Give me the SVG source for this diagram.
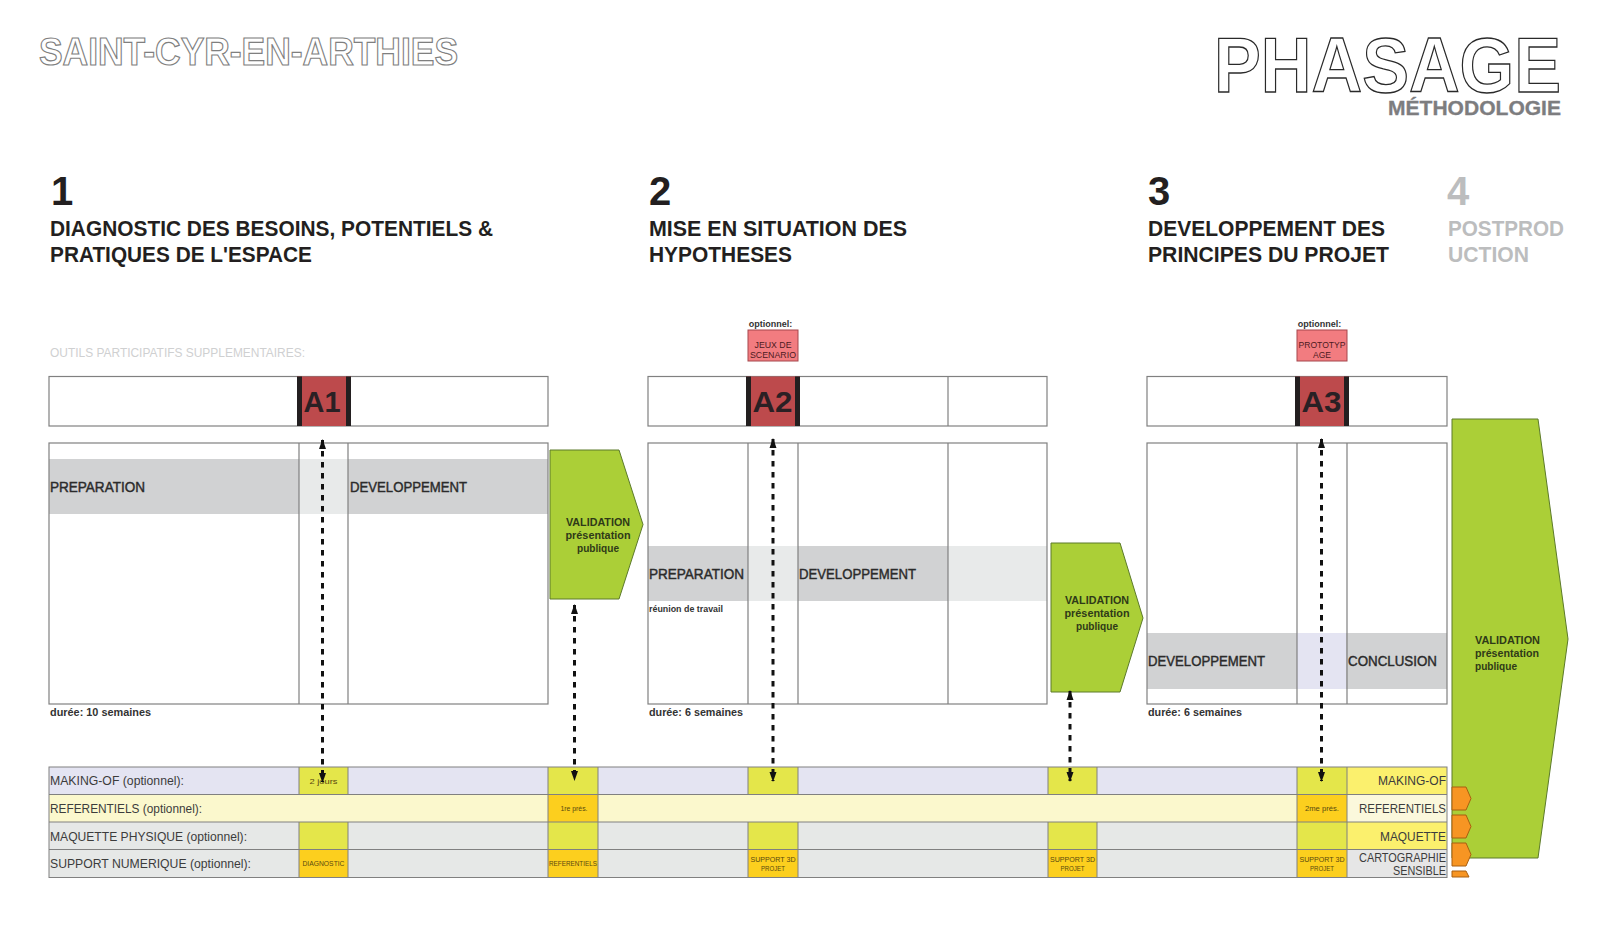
<svg xmlns="http://www.w3.org/2000/svg" width="1600" height="949" viewBox="0 0 1600 949">
<style>
text{font-family:"Liberation Sans",Arial,sans-serif}
.outline{font-weight:700;fill:#fff}
.num{font-size:40px;font-weight:700;fill:#231f20}
.head{font-size:21.5px;font-weight:700;fill:#231f20}
.grey{fill:#bcbdbe}
.frame{fill:none;stroke:#808080;stroke-width:1.2}
.div{stroke:#808080;stroke-width:1.2;fill:none}
.box{fill:#fff;stroke:#808080;stroke-width:1.2}
.band{fill:#d1d2d3}
.light{fill:#e8eaea}
.bandt{font-size:15px;fill:#2b2b2b;stroke:#2b2b2b;stroke-width:.45}
.a{fill:#bd4a4c}
.bar{fill:#231f20}
.at{font-size:30px;font-weight:700;fill:#2a2024;text-anchor:middle}
.opt{font-size:9px;font-weight:700;fill:#333;text-anchor:middle}
.pink{fill:#f27c80;stroke:#a5474c;stroke-width:1}
.pt{font-size:8.5px;fill:#4d1a20;text-anchor:middle}
.dur{font-size:10.5px;font-weight:700;fill:#333}
.arrow{fill:#abcf37;stroke:#5c7a2a;stroke-width:1}
.vt{font-size:11px;font-weight:700;fill:#2f3a18;text-anchor:middle}
.vl{font-size:11px;font-weight:700;fill:#2f3a18}
.r1{fill:#e4e4f2}.r2{fill:#fbf8cd}.r3{fill:#e6e8e7}
.yc{fill:#e4e64a}.oc{fill:#fccf1e}
.ry{fill:#fbf06d}.rp{fill:#fbf8dc}.rg{fill:#e6e6e6}
.gl{stroke:#808080;stroke-width:1;fill:none}
.rl{font-size:13.5px;fill:#3c3c3c}
.rr{font-size:13.5px;fill:#3c3c3c}
.sm{font-size:7.5px;fill:#5a4a10;text-anchor:middle}
.orange{fill:#f79523;stroke:#a85f10;stroke-width:1}
.dash{stroke:#111;stroke-width:3;stroke-dasharray:5.5 5.5;fill:none}
</style>
<defs>
<marker id="ah" markerUnits="userSpaceOnUse" markerWidth="10" markerHeight="9" refX="9" refY="4" orient="auto-start-reverse"><path d="M0 0.500L10 4L0 7.500Z" fill="#111"/></marker>
</defs>

<g id="titles">
<text class="outline" x="39" y="65" font-size="39" stroke="#7f7f7f" stroke-width="1.2" textLength="419" lengthAdjust="spacingAndGlyphs">SAINT-CYR-EN-ARTHIES</text>
<text class="outline" x="1214" y="92" font-size="77" stroke="#2a2a2a" stroke-width="1.3" textLength="347" lengthAdjust="spacingAndGlyphs">PHASAGE</text>
<text x="1388" y="115" font-size="20" font-weight="700" fill="#7d7d7f" stroke="#7d7d7f" stroke-width=".3" textLength="173" lengthAdjust="spacingAndGlyphs">MÉTHODOLOGIE</text>
</g>

<g id="phase-1-head">
<text class="num" x="51" y="205">1</text>
<text class="head" x="50" y="236" textLength="443" lengthAdjust="spacingAndGlyphs">DIAGNOSTIC DES BESOINS, POTENTIELS &amp;</text>
<text class="head" x="50" y="262" textLength="262" lengthAdjust="spacingAndGlyphs">PRATIQUES DE L'ESPACE</text>
</g>
<g id="phase-2-head">
<text class="num" x="649" y="205">2</text>
<text class="head" x="649" y="236" textLength="258" lengthAdjust="spacingAndGlyphs">MISE EN SITUATION DES</text>
<text class="head" x="649" y="262" textLength="143" lengthAdjust="spacingAndGlyphs">HYPOTHESES</text>
</g>
<g id="phase-3-head">
<text class="num" x="1148" y="205">3</text>
<text class="head" x="1148" y="236" textLength="237" lengthAdjust="spacingAndGlyphs">DEVELOPPEMENT DES</text>
<text class="head" x="1148" y="262" textLength="241" lengthAdjust="spacingAndGlyphs">PRINCIPES DU PROJET</text>
</g>
<g id="phase-4-head">
<text class="num grey" x="1447" y="205">4</text>
<text class="head grey" x="1448" y="236" textLength="116" lengthAdjust="spacingAndGlyphs">POSTPROD</text>
<text class="head grey" x="1448" y="262" textLength="81" lengthAdjust="spacingAndGlyphs">UCTION</text>
</g>

<text id="outils" x="50" y="357" font-size="12" fill="#cfd0d1" textLength="255" lengthAdjust="spacingAndGlyphs">OUTILS PARTICIPATIFS SUPPLEMENTAIRES:</text>

<g id="strip-a1">
<rect class="box" x="49" y="376.500" width="499" height="49.500"/>
<rect class="a" x="297" y="376.500" width="54" height="49.500"/>
<rect class="bar" x="297" y="376.500" width="5" height="49.500"/><rect class="bar" x="346" y="376.500" width="5" height="49.500"/>
<text class="at" x="322" y="411.500" textLength="37" lengthAdjust="spacingAndGlyphs">A1</text>
</g>
<g id="strip-a2">
<rect class="box" x="648" y="376.500" width="399" height="49.500"/>
<line class="div" x1="948" y1="376.500" x2="948" y2="426"/>
<rect class="a" x="746" y="376.500" width="54" height="49.500"/>
<rect class="bar" x="746" y="376.500" width="5" height="49.500"/><rect class="bar" x="795" y="376.500" width="5" height="49.500"/>
<text class="at" x="772.500" y="411.500" textLength="40" lengthAdjust="spacingAndGlyphs">A2</text>
</g>
<g id="strip-a3">
<rect class="box" x="1147" y="376.500" width="300" height="49.500"/>
<rect class="a" x="1295" y="376.500" width="54" height="49.500"/>
<rect class="bar" x="1295" y="376.500" width="5" height="49.500"/><rect class="bar" x="1344" y="376.500" width="5" height="49.500"/>
<text class="at" x="1321.500" y="411.500" textLength="40" lengthAdjust="spacingAndGlyphs">A3</text>
</g>

<g id="option-jeux">
<text class="opt" x="770.500" y="327">optionnel:</text>
<rect class="pink" x="748" y="330" width="50" height="31"/>
<text class="pt" x="773" y="347.500" textLength="37" lengthAdjust="spacingAndGlyphs">JEUX DE</text>
<text class="pt" x="773" y="358" textLength="46" lengthAdjust="spacingAndGlyphs">SCENARIO</text>
</g>
<g id="option-proto">
<text class="opt" x="1319.500" y="327">optionnel:</text>
<rect class="pink" x="1297" y="330" width="50" height="31"/>
<text class="pt" x="1322" y="347.500" textLength="47" lengthAdjust="spacingAndGlyphs">PROTOTYP</text>
<text class="pt" x="1322" y="358" textLength="18" lengthAdjust="spacingAndGlyphs">AGE</text>
</g>

<g id="frame-1">
<rect class="band" x="49" y="459" width="499" height="55"/>
<rect class="light" x="299" y="459" width="49" height="55"/>
<rect class="frame" x="49" y="443" width="499" height="261"/>
<path class="div" d="M299 443V704M348 443V704"/>
<text class="bandt" x="50" y="492" textLength="95" lengthAdjust="spacingAndGlyphs">PREPARATION</text>
<text class="bandt" x="350" y="492" textLength="117" lengthAdjust="spacingAndGlyphs">DEVELOPPEMENT</text>
<text class="dur" x="50" y="716" textLength="101" lengthAdjust="spacingAndGlyphs">durée: 10 semaines</text>
</g>
<g id="frame-2">
<rect class="band" x="648" y="546" width="399" height="55"/>
<rect class="light" x="748" y="546" width="50" height="55"/>
<rect class="light" x="948" y="546" width="99" height="55"/>
<rect class="frame" x="648" y="443" width="399" height="261"/>
<path class="div" d="M748 443V704M798 443V704M948 443V704"/>
<text class="bandt" x="649" y="578.500" textLength="95" lengthAdjust="spacingAndGlyphs">PREPARATION</text>
<text class="bandt" x="799" y="578.500" textLength="117" lengthAdjust="spacingAndGlyphs">DEVELOPPEMENT</text>
<text x="649" y="612" font-size="8.500" font-weight="700" fill="#333" textLength="74" lengthAdjust="spacingAndGlyphs">réunion de travail</text>
<text class="dur" x="649" y="716" textLength="94" lengthAdjust="spacingAndGlyphs">durée: 6 semaines</text>
</g>
<g id="frame-3">
<rect class="band" x="1147" y="633" width="300" height="56"/>
<rect class="r1" x="1297" y="633" width="49" height="56"/>
<rect class="frame" x="1147" y="443" width="300" height="261"/>
<path class="div" d="M1297 443V704M1347 443V704"/>
<text class="bandt" x="1148" y="665.500" textLength="117" lengthAdjust="spacingAndGlyphs">DEVELOPPEMENT</text>
<text class="bandt" x="1348" y="665.500" textLength="89" lengthAdjust="spacingAndGlyphs">CONCLUSION</text>
<text class="dur" x="1148" y="716" textLength="94" lengthAdjust="spacingAndGlyphs">durée: 6 semaines</text>
</g>

<g id="validation-1">
<polygon class="arrow" points="550,450 619,450 643,524.500 619,599 550,599"/>
<text class="vt" x="598" y="526" textLength="64" lengthAdjust="spacingAndGlyphs">VALIDATION</text>
<text class="vt" x="598" y="539" textLength="65" lengthAdjust="spacingAndGlyphs">présentation</text>
<text class="vt" x="598" y="552" textLength="42" lengthAdjust="spacingAndGlyphs">publique</text>
</g>
<g id="validation-2">
<polygon class="arrow" points="1051,543 1120,543 1143,618 1120,692 1051,692"/>
<text class="vt" x="1097" y="604" textLength="64" lengthAdjust="spacingAndGlyphs">VALIDATION</text>
<text class="vt" x="1097" y="617" textLength="65" lengthAdjust="spacingAndGlyphs">présentation</text>
<text class="vt" x="1097" y="630" textLength="42" lengthAdjust="spacingAndGlyphs">publique</text>
</g>
<g id="validation-3">
<polygon class="arrow" points="1452,419 1538,419 1568,639 1538,858 1452,858"/>
<text class="vl" x="1475" y="644" textLength="65" lengthAdjust="spacingAndGlyphs">VALIDATION</text>
<text class="vl" x="1475" y="657" textLength="64" lengthAdjust="spacingAndGlyphs">présentation</text>
<text class="vl" x="1475" y="670" textLength="42" lengthAdjust="spacingAndGlyphs">publique</text>
</g>

<g id="table">
<rect class="r1" x="49" y="767" width="1248" height="27.500"/>
<rect class="r2" x="49" y="794.500" width="1248" height="27.500"/>
<rect class="r3" x="49" y="822" width="1248" height="55"/>
<rect class="yc" x="299" y="767" width="49" height="27.500"/>
<rect class="yc" x="299" y="822" width="49" height="27.500"/>
<rect class="oc" x="299" y="849.500" width="49" height="27.500"/>
<rect class="yc" x="548" y="767" width="50" height="27.500"/>
<rect class="oc" x="548" y="794.500" width="50" height="27.500"/>
<rect class="yc" x="548" y="822" width="50" height="27.500"/>
<rect class="oc" x="548" y="849.500" width="50" height="27.500"/>
<rect class="yc" x="748" y="767" width="50" height="27.500"/>
<rect class="yc" x="748" y="822" width="50" height="27.500"/>
<rect class="oc" x="748" y="849.500" width="50" height="27.500"/>
<rect class="yc" x="1048" y="767" width="49" height="27.500"/>
<rect class="yc" x="1048" y="822" width="49" height="27.500"/>
<rect class="oc" x="1048" y="849.500" width="49" height="27.500"/>
<rect class="yc" x="1297" y="767" width="50" height="27.500"/>
<rect class="oc" x="1297" y="794.500" width="50" height="27.500"/>
<rect class="yc" x="1297" y="822" width="50" height="27.500"/>
<rect class="oc" x="1297" y="849.500" width="50" height="27.500"/>
<rect class="ry" x="1347" y="767" width="100" height="27.500"/>
<rect class="rp" x="1347" y="794.500" width="100" height="27.500"/>
<rect class="ry" x="1347" y="822" width="100" height="27.500"/>
<rect class="rg" x="1347" y="849.500" width="100" height="27.500"/>
<rect class="gl" x="49" y="767" width="1398" height="110.500"/>
<path class="gl" d="M49 794.500H1447M49 822H1447M49 849.500H1447"/>
<path class="gl" d="M299 767V794.500M348 767V794.500M299 822V877M348 822V877M548 767V877M598 767V877M748 767V794.500M798 767V794.500M748 822V877M798 822V877M1048 767V794.500M1097 767V794.500M1048 822V877M1097 822V877M1297 767V877M1347 767V877"/>
<text class="rl" x="50" y="785" textLength="134" lengthAdjust="spacingAndGlyphs">MAKING-OF (optionnel):</text>
<text class="rl" x="50" y="813" textLength="152" lengthAdjust="spacingAndGlyphs">REFERENTIELS (optionnel):</text>
<text class="rl" x="50" y="840.500" textLength="197" lengthAdjust="spacingAndGlyphs">MAQUETTE PHYSIQUE (optionnel):</text>
<text class="rl" x="50" y="868" textLength="201" lengthAdjust="spacingAndGlyphs">SUPPORT NUMERIQUE (optionnel):</text>
<text class="rr" x="1378" y="785" textLength="68" lengthAdjust="spacingAndGlyphs">MAKING-OF</text>
<text class="rr" x="1359" y="813" textLength="87" lengthAdjust="spacingAndGlyphs">REFERENTIELS</text>
<text class="rr" x="1380" y="840.500" textLength="66" lengthAdjust="spacingAndGlyphs">MAQUETTE</text>
<text class="rr" x="1359" y="862" font-size="12.500" textLength="87" lengthAdjust="spacingAndGlyphs">CARTOGRAPHIE</text>
<text class="rr" x="1393" y="875" font-size="12.500" textLength="53" lengthAdjust="spacingAndGlyphs">SENSIBLE</text>
<text class="sm" x="323.500" y="784" font-size="8" textLength="28" lengthAdjust="spacingAndGlyphs">2 jours</text>
<text class="sm" x="574" y="811" textLength="27" lengthAdjust="spacingAndGlyphs">1re prés.</text>
<text class="sm" x="1322" y="811" textLength="34" lengthAdjust="spacingAndGlyphs">2me prés.</text>
<text class="sm" x="323.500" y="866" textLength="42" lengthAdjust="spacingAndGlyphs">DIAGNOSTIC</text>
<text class="sm" x="573" y="866" textLength="48" lengthAdjust="spacingAndGlyphs">REFERENTIELS</text>
<text class="sm" x="773" y="862" textLength="45" lengthAdjust="spacingAndGlyphs">SUPPORT 3D</text>
<text class="sm" x="773" y="871" textLength="24" lengthAdjust="spacingAndGlyphs">PROJET</text>
<text class="sm" x="1072.500" y="862" textLength="45" lengthAdjust="spacingAndGlyphs">SUPPORT 3D</text>
<text class="sm" x="1072.500" y="871" textLength="24" lengthAdjust="spacingAndGlyphs">PROJET</text>
<text class="sm" x="1322" y="862" textLength="45" lengthAdjust="spacingAndGlyphs">SUPPORT 3D</text>
<text class="sm" x="1322" y="871" textLength="24" lengthAdjust="spacingAndGlyphs">PROJET</text>
</g>

<g id="tabs">
<polygon class="orange" points="1452,787 1466,787 1471,798.500 1466,810 1452,810"/>
<polygon class="orange" points="1452,815 1466,815 1471,826.500 1466,838 1452,838"/>
<polygon class="orange" points="1452,843 1466,843 1471,854.500 1466,866 1452,866"/>
<polygon class="orange" points="1452,877 1452,871 1466,871 1469,877"/>
</g>

<g id="connectors">
<line class="dash" x1="322.500" y1="440" x2="322.500" y2="782" marker-start="url(#ah)" marker-end="url(#ah)"/>
<line class="dash" x1="574.500" y1="605" x2="574.500" y2="780" marker-start="url(#ah)" marker-end="url(#ah)"/>
<line class="dash" x1="773" y1="439" x2="773" y2="781" marker-start="url(#ah)" marker-end="url(#ah)"/>
<line class="dash" x1="1070" y1="691" x2="1070" y2="781" marker-start="url(#ah)" marker-end="url(#ah)"/>
<line class="dash" x1="1321.500" y1="439" x2="1321.500" y2="781" marker-start="url(#ah)" marker-end="url(#ah)"/>
</g>
</svg>
